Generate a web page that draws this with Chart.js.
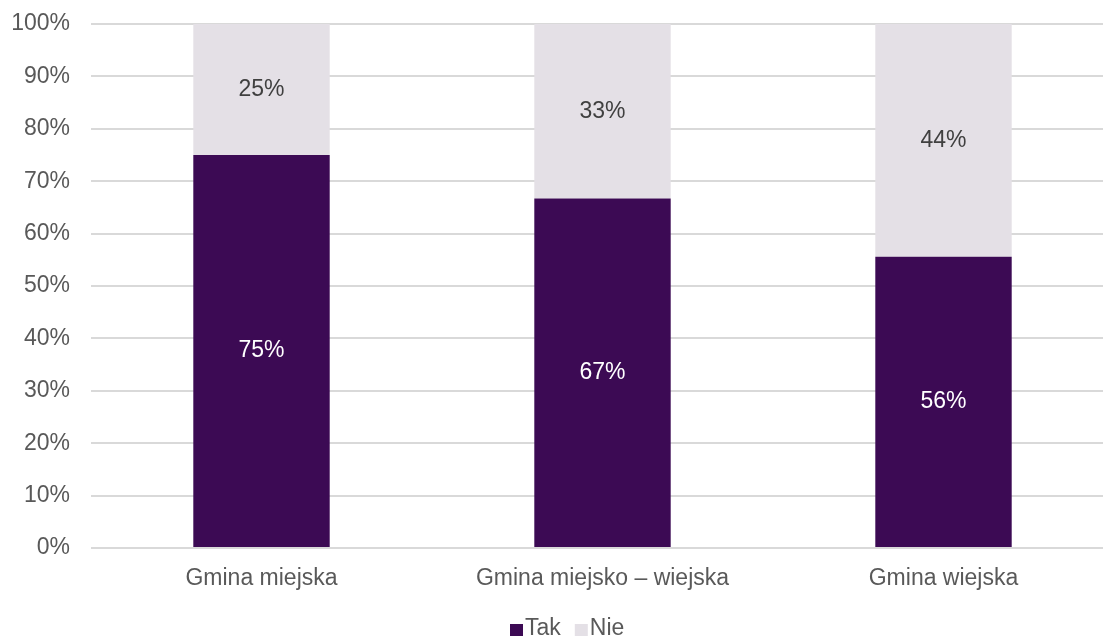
<!DOCTYPE html>
<html>
<head>
<meta charset="utf-8">
<script src="https://cdn.jsdelivr.net/npm/chart.js@4"></script>
<style>
  html, body { margin: 0; padding: 0; background: #fff; overflow: hidden; }
  #wrap { width: 1114px; height: 638px; position: relative; }
</style>
</head>
<body>
<div id="wrap"><canvas id="chart"></canvas></div>
<script>
const categories = ['Gmina miejska', 'Gmina miejsko – wiejska', 'Gmina wiejska'];
const takValues = [75, 66.7, 55.6];
const nieValues = [25, 33.3, 44.4];
const yTicks = [0, 10, 20, 30, 40, 50, 60, 70, 80, 90, 100];

const purple = '#3c0a54';
const lilac = '#e4e0e6';
const fontFamily = '"Liberation Sans", Arial, sans-serif';

// draws the percent in the middle of each segment
const segmentLabels = {
    id: 'segmentLabels',
    afterDatasetsDraw(chart) {
        const ctx = chart.ctx;
        ctx.save();
        ctx.font = '23px ' + fontFamily;
        ctx.textAlign = 'center';
        ctx.textBaseline = 'middle';
        chart.data.datasets.forEach((ds, i) => {
            const meta = chart.getDatasetMeta(i);
            meta.data.forEach((bar, j) => {
                const p = bar.getCenterPoint();
                ctx.fillStyle = ds.labelColor;
                ctx.fillText(Math.round(ds.data[j]) + '%', p.x, p.y);
            });
        });
        ctx.restore();
    }
};

// excel-like legend: small square, tight gap to the text
const bottomLegend = {
    id: 'bottomLegend',
    afterDraw(chart) {
        const ctx = chart.ctx;
        ctx.save();
        ctx.font = '23px ' + fontFamily;
        ctx.textBaseline = 'middle';
        let x = 510;
        const y = 629;
        chart.data.datasets.forEach(ds => {
            ctx.fillStyle = ds.backgroundColor;
            ctx.fillRect(x, y - 5, 13, 12);
            x += 15;
            ctx.fillStyle = '#595959';
            ctx.fillText(ds.label, x, y);
            x += ctx.measureText(ds.label).width + 14;
        });
        ctx.restore();
    }
};

new Chart(document.getElementById('chart'), {
    type: 'bar',
    data: {
        labels: categories,
        datasets: [
            { label: 'Tak', data: takValues, backgroundColor: purple, labelColor: '#ffffff' },
            { label: 'Nie', data: nieValues, backgroundColor: lilac, labelColor: '#404040' }
        ]
    },
    options: {
        responsive: true,
        maintainAspectRatio: false,
        animation: false,
        layout: { padding: { top: 24, right: 0, bottom: 0, left: 0 } },
        datasets: { bar: { categoryPercentage: 1, barPercentage: 0.4 } },
        scales: {
            x: {
                stacked: true,
                grid: { display: false },
                border: { display: false },
                afterFit(axis) { axis.height = 90; },
                ticks: {
                    color: '#595959',
                    padding: 9,
                    font: { size: 23, family: fontFamily }
                }
            },
            y: {
                stacked: true,
                min: 0,
                max: 100,
                afterBuildTicks(axis) {
                    axis.ticks = yTicks.map(v => ({ value: v }));
                },
                afterFit(axis) {
                    axis.width = 91;
                    axis.paddingTop = 0;
                    axis.paddingBottom = 0;
                },
                grid: { color: '#d9d9d9', lineWidth: 2, drawTicks: false },
                border: { display: false },
                ticks: {
                    color: '#595959',
                    padding: 21,
                    font: { size: 23, family: fontFamily },
                    callback: v => v + '%'
                }
            }
        },
        plugins: {
            legend: { display: false },
            tooltip: { enabled: false }
        }
    },
    plugins: [segmentLabels, bottomLegend]
});
</script>
</body>
</html>
